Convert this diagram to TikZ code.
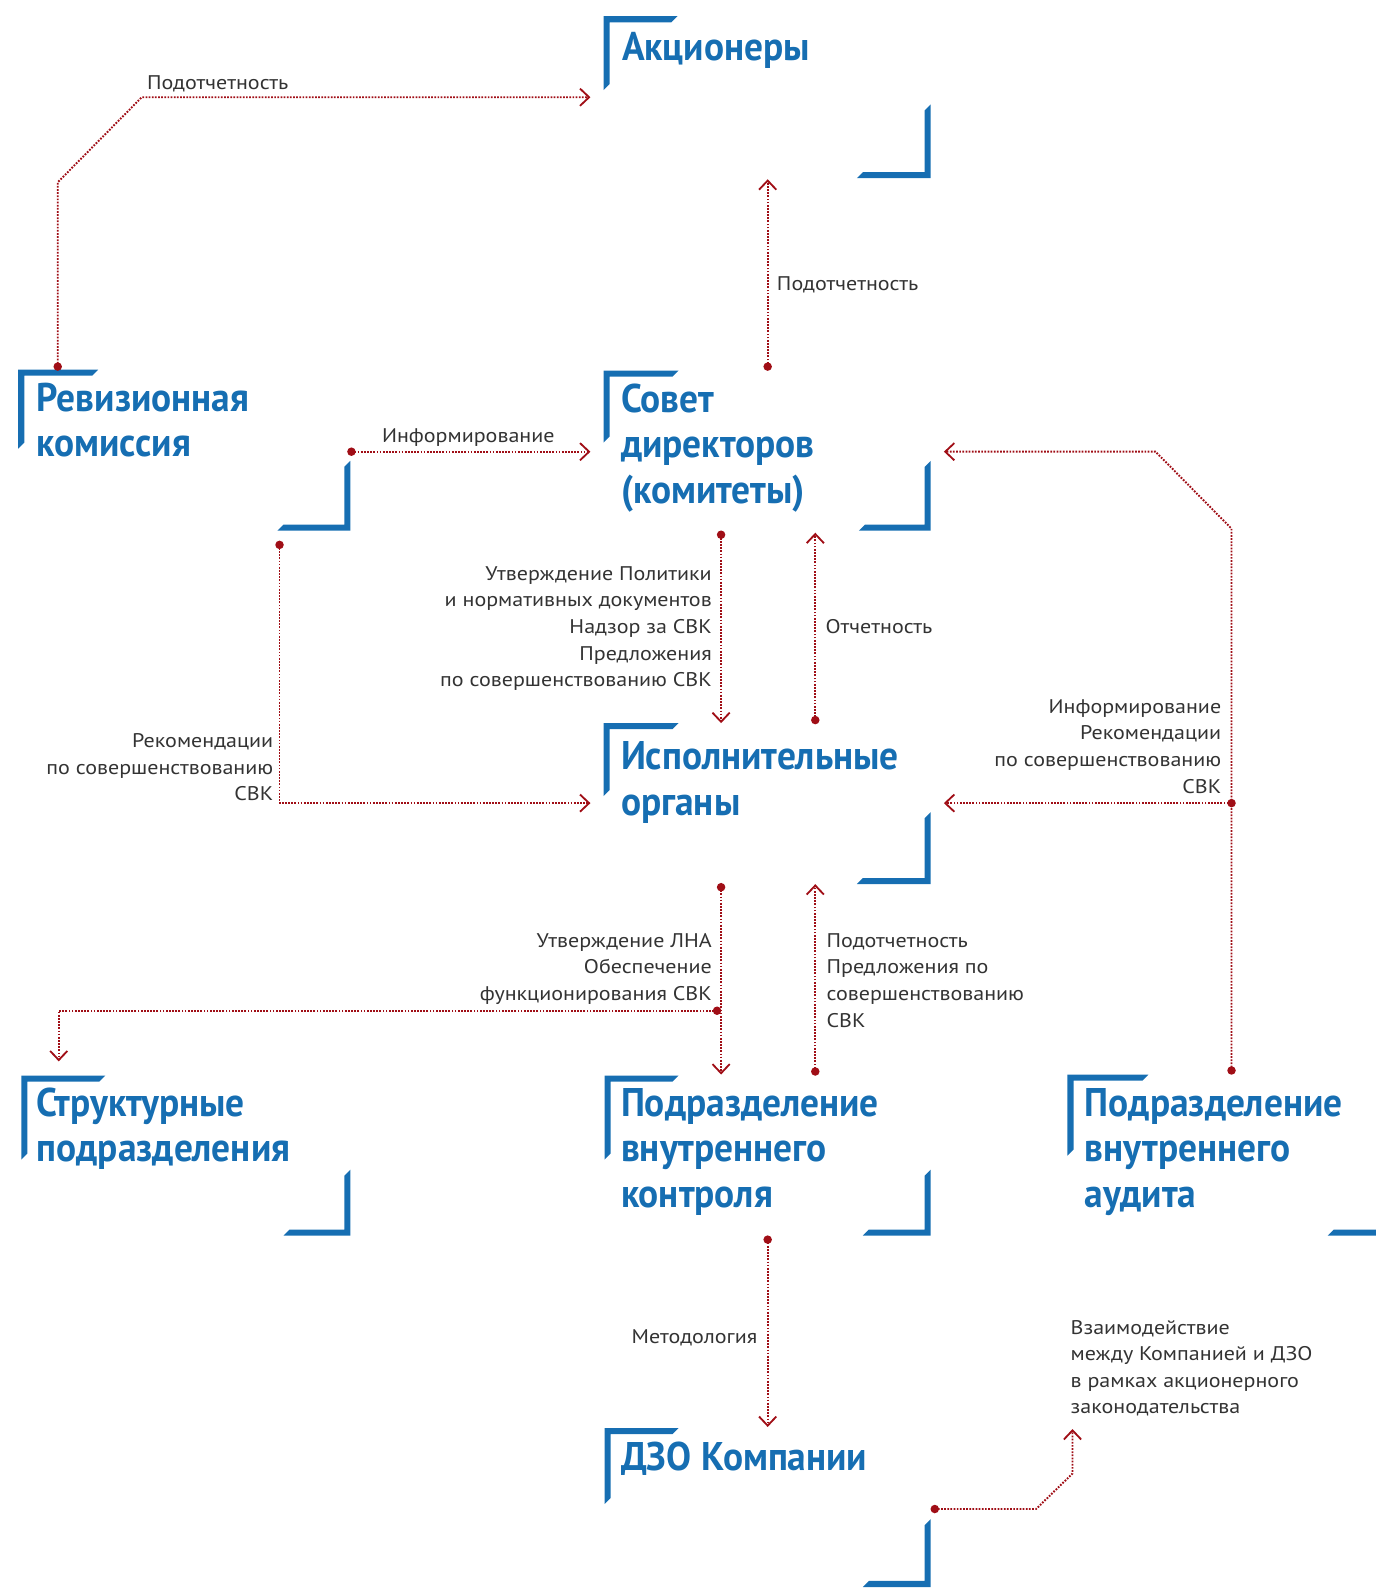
\documentclass[tikz,border=0pt]{standalone}
\usepackage{fontspec}
\setmainfont{PT Sans}
\newfontfamily\ttlfont{PT Sans}[FakeStretch=0.935]
\newfontfamily\lblfont{PT Sans}[FakeStretch=1.115]
\usetikzlibrary{arrows.meta}
\definecolor{brandblue}{RGB}{22,110,178}
\definecolor{linkred}{RGB}{160,14,22}
\definecolor{labelgray}{RGB}{51,51,51}
\newcommand\TLbrk[4]{%
  \fill[brandblue] (#1,#2) -- (#3,#2) -- ({#3-6},{#2+6}) -- ({#1+6},{#2+6}) -- ({#1+6},{#4-6}) -- (#1,#4) -- cycle;}
\newcommand\BRbrk[4]{%
  \fill[brandblue] (#1,#2) -- (#3,#2) -- ({#3+6},{#2-6}) -- ({#1-6},{#2-6}) -- ({#1-6},{#4+6}) -- (#1,#4) -- cycle;}
\newcommand\Tstrut{\rule{0pt}{32pt}}
\newcommand\Lstrut{\rule{0pt}{17pt}}
\tikzset{
  ttl/.style={font=\ttlfont\fontsize{39.5}{45}\selectfont\bfseries, text=brandblue, inner sep=0pt, anchor=north west, align=left},
  lbl/.style={font=\lblfont\fontsize{19.5}{26.3}\selectfont, text=labelgray, inner sep=0pt},
  link/.style={draw=linkred, line width=1.9pt, dash pattern=on 1.7pt off 1.4pt},
  arr/.style={-{Straight Barb[length=9pt,width=17pt,line width=1.8pt]}},
  reddot/.style={fill=linkred},
}
\begin{document}
\begin{tikzpicture}[x=1pt,y=-1pt]
\useasboundingbox (0,0) rectangle (1358,1568);

% ---------- brackets ----------
\TLbrk{596}{16}{669}{89}      \BRbrk{919}{176}{846}{103}
\TLbrk{18}{365}{97}{443}      \BRbrk{346}{524}{274}{455}
\TLbrk{596}{366}{670}{437}    \BRbrk{919}{524}{848}{455}
\TLbrk{596}{714}{670}{786}    \BRbrk{919}{873}{846}{802}
\TLbrk{21}{1062}{104}{1145}   \BRbrk{346}{1220}{280}{1155}
\TLbrk{597}{1062}{670}{1145}  \BRbrk{919}{1220}{852}{1155}
\TLbrk{1054}{1061}{1134}{1141} \BRbrk{1380}{1220}{1311}{1150}
\TLbrk{597}{1410}{670}{1485}  \BRbrk{919}{1567}{852}{1500}

% ---------- titles ----------
\node[ttl] (akc)  at (614,28)   {\Tstrut Акционеры};
\node[ttl] (rev)  at (36,374)   {\Tstrut Ревизионная\\комиссия};
\node[ttl] (sov)  at (613,375)  {\Tstrut Совет\\директоров\\(комитеты)};
\node[ttl] (isp)  at (613,728)  {\Tstrut Исполнительные\\органы};
\node[ttl] (str)  at (36,1070)  {\Tstrut Структурные\\подразделения};
\node[ttl] (ctrl) at (613,1070) {\Tstrut Подразделение\\внутреннего\\контроля};
\node[ttl] (aud)  at (1071,1070){\Tstrut Подразделение\\внутреннего\\аудита};
\node[ttl] (dzo)  at (613,1420) {\Tstrut ДЗО Компании};

% ---------- connector points ----------
\coordinate (revTop) at (57,362);   \coordinate (revB1) at (57,180);
\coordinate (revB2) at (140,96);    \coordinate (akcIn) at (583,96);
\coordinate (sovUp) at (758,362);   \coordinate (akcBot) at (758,177);
\coordinate (revInfo) at (347,446); \coordinate (sovInL) at (583,446);
\coordinate (audTop) at (1216,1057);\coordinate (audB1) at (1216,522);
\coordinate (audB2) at (1141,446);  \coordinate (sovInR) at (932,446);
\coordinate (audBr) at (1216,793);  \coordinate (ispInR) at (932,793);
\coordinate (sovDown) at (712,528); \coordinate (ispTopL) at (712,714);
\coordinate (ispUp) at (805,711);   \coordinate (sovBot) at (805,526);
\coordinate (revRec) at (276,538);  \coordinate (revRecB) at (276,793);
\coordinate (ispInL) at (583,793);
\coordinate (ispDown) at (712,876); \coordinate (ctrlTopL) at (712,1061);
\coordinate (brDot) at (708,998);   \coordinate (brB) at (58,998);
\coordinate (strTop) at (58,1048);
\coordinate (ctrlUp) at (805,1058); \coordinate (ispBot) at (805,873);
\coordinate (ctrlDown) at (758,1224); \coordinate (dzoTop) at (758,1409);
\coordinate (dzoDot) at (923,1490); \coordinate (dzoB1) at (1023,1490);
\coordinate (dzoB2) at (1059,1455); \coordinate (noteBot) at (1059,1411);

% ---------- connectors ----------
\draw[link,arr] (revTop) -- (revB1) -- (revB2) -- (akcIn);
\draw[link,arr] (sovUp) -- (akcBot);
\draw[link,arr] (revInfo) -- (sovInL);
\draw[link,arr] (audTop) -- (audB1) -- (audB2) -- (sovInR);
\draw[link,arr] (audBr) -- (ispInR);
\draw[link,arr] (sovDown) -- (ispTopL);
\draw[link,arr] (ispUp) -- (sovBot);
\draw[link,arr] (revRec) -- (revRecB) -- (ispInL);
\draw[link,arr] (ispDown) -- (ctrlTopL);
\draw[link,arr] (brDot) -- (brB) -- (strTop);
\draw[link,arr] (ctrlUp) -- (ispBot);
\draw[link,arr] (ctrlDown) -- (dzoTop);
\draw[link,arr] (dzoDot) -- (dzoB1) -- (dzoB2) -- (noteBot);

\foreach \p in {revTop,sovUp,revInfo,audTop,audBr,sovDown,ispUp,revRec,ispDown,brDot,ctrlUp,ctrlDown,dzoDot}
  \fill[reddot] (\p) circle (4.2);

% ---------- labels ----------
\node[lbl, anchor=north west] (l1) at (145,71) {\Lstrut Подотчетность};
\node[lbl, anchor=north west] (l2) at (767,270) {\Lstrut Подотчетность};
\node[lbl, anchor=north west] (l3) at (377,420) {\Lstrut Информирование};
\node[lbl, anchor=north east, align=right] (l4) at (1206,687)
  {\Lstrut Информирование\\Рекомендации\\по совершенствованию\\СВК};
\node[lbl, anchor=north east, align=right] (l5) at (703,555.6)
  {\Lstrut Утверждение Политики\\и нормативных документов\\Надзор за СВК\\Предложения\\по совершенствованию СВК};
\node[lbl, anchor=north west] (l6) at (815,608) {\Lstrut Отчетность};
\node[lbl, anchor=north east, align=right] (l7) at (270,721)
  {\Lstrut Рекомендации\\по совершенствованию\\СВК};
\node[lbl, anchor=north east, align=right] (l8) at (703,918)
  {\Lstrut Утверждение ЛНА\\Обеспечение\\функционирования СВК};
\node[lbl, anchor=north west, align=left] (l9) at (816,918)
  {\Lstrut Подотчетность\\Предложения по\\совершенствованию\\СВК};
\node[lbl, anchor=north east] (l10) at (748,1309) {\Lstrut Методология};
\node[lbl, anchor=north west, align=left] (l11) at (1057,1300)
  {\Lstrut Взаимодействие\\между Компанией и ДЗО\\в рамках акционерного\\законодательства};
\end{tikzpicture}
\end{document}
